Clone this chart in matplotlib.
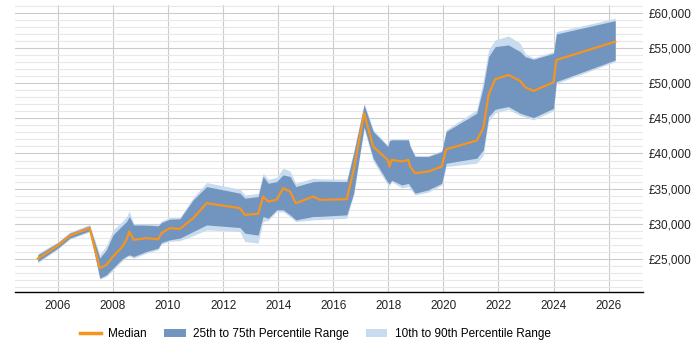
import matplotlib
matplotlib.use("Agg")
import matplotlib.pyplot as plt
from matplotlib.ticker import FuncFormatter, MultipleLocator
from matplotlib.patches import Patch
from matplotlib.lines import Line2D

plt.rcParams['font.family'] = ['Liberation Sans', 'DejaVu Sans']

# Salary percentiles over time
years = [2005.27, 2006.0, 2006.43, 2007.15, 2007.52, 2007.76, 2008.0, 2008.3, 2008.49,
         2008.59, 2008.75, 2009.21, 2009.64, 2009.76, 2010.06, 2010.43, 2010.91, 2011.40,
         2012.61, 2012.79, 2013.27, 2013.45, 2013.64, 2013.94, 2014.18, 2014.43, 2014.64,
         2015.27, 2015.52, 2016.49, 2016.74, 2017.12, 2017.45, 2017.98, 2018.04, 2018.12,
         2018.49, 2018.73, 2018.79, 2018.97, 2019.45, 2019.94, 2020.10, 2021.21, 2021.45,
         2021.64, 2021.88, 2022.36, 2022.79, 2022.97, 2023.27, 2024.0, 2024.1, 2026.24]
p10 = [24450, 26400, 27800, 28850, 22100, 22500, 23400, 24600, 25200,
       25400, 25100, 25800, 26300, 27100, 27500, 27600, 28300, 29130,
       28890, 27470, 27240, 30310, 30500, 31700, 31700, 31000, 30310,
       30550, 30600, 30780, 34100, 43500, 38900, 35500, 35400, 36000,
       35100, 35300, 35000, 34110, 34500, 35500, 38140, 38620, 39800,
       44600, 45800, 46300, 45400, 45200, 44780, 46100, 49950, 53070]
p25 = [24620, 26550, 27950, 28990, 22260, 22730, 23680, 24860, 25400,
       25580, 25340, 26050, 26530, 27330, 27710, 27950, 28890, 29830,
       29460, 28660, 28380, 31030, 30780, 31980, 31980, 31270, 30550,
       31030, 31050, 31270, 34350, 43800, 39330, 35900, 35700, 36200,
       35520, 35760, 35400, 34350, 34820, 35760, 38620, 39330, 40510,
       45250, 46300, 46680, 45730, 45500, 45110, 46440, 50230, 53310]
median = [25050, 26900, 28300, 29370, 23680, 24150, 25340, 26530, 27710,
          28890, 27710, 27950, 27800, 28660, 29370, 29270, 30780, 32930,
          32220, 31270, 31410, 33870, 33160, 33400, 35060, 34580, 32930,
          33870, 33400, 33500, 37670, 45730, 40980, 39090, 38140, 39090,
          38860, 39090, 38140, 37200, 37430, 38140, 40610, 41840, 43600,
          48340, 50570, 51180, 50330, 49430, 48900, 50140, 53310, 55920]
p75 = [25580, 27300, 28660, 29700, 25110, 26290, 28420, 29600, 30310,
       31030, 29830, 29800, 29700, 30170, 30650, 30700, 33400, 35290,
       34350, 33640, 33870, 36730, 35760, 36000, 36960, 36730, 35290,
       36000, 36050, 36000, 40040, 46900, 43130, 41000, 41800, 41940,
       41940, 41940, 41000, 39570, 39560, 40270, 43130, 45730, 49520,
       53780, 55210, 55450, 54500, 53780, 53410, 54270, 57010, 58910]
p90 = [25750, 27450, 28800, 29900, 25600, 26900, 29100, 30200, 31000,
       31800, 30000, 29950, 29850, 30400, 30900, 30900, 33700, 35860,
       34920, 34110, 34300, 37200, 36300, 36600, 37900, 37500, 35760,
       36490, 36400, 36350, 40300, 47200, 43400, 41200, 42000, 42100,
       42100, 42100, 41200, 39750, 39700, 40400, 43400, 46200, 50500,
       54740, 56160, 56730, 55690, 54200, 53600, 54500, 57340, 59250]

light_blue = '#c9dbee'
dark_blue = '#7195be'
orange = '#f7941d'

fig = plt.figure(figsize=(7, 3.5), dpi=100)
ax = fig.add_axes([0.021, 0.166, 0.898, 0.820])

ax.fill_between(years, p10, p90, color=light_blue, linewidth=0, zorder=2)
ax.fill_between(years, p25, p75, color=dark_blue, linewidth=0, zorder=3)
ax.plot(years, median, color=orange, linewidth=1.6, zorder=4)

ax.set_xlim(2004.43, 2027.26)
ax.set_ylim(20300, 61150)

ax.xaxis.set_major_locator(MultipleLocator(2))
ax.yaxis.set_major_locator(MultipleLocator(5000))
ax.yaxis.set_minor_locator(MultipleLocator(1000))
ax.yaxis.set_major_formatter(FuncFormatter(lambda v, p: f"£{v:,.0f}"))
ax.yaxis.tick_right()

ax.grid(True, which='major', axis='both', color='#cccccc', linewidth=0.8, zorder=0)
ax.grid(True, which='minor', axis='y', color='#e8e8e8', linewidth=0.8, zorder=0)
ax.set_axisbelow(True)

for side in ['top', 'left', 'right']:
    ax.spines[side].set_visible(False)
ax.spines['bottom'].set_color('#000000')
ax.spines['bottom'].set_linewidth(1.0)

ax.tick_params(axis='both', which='both', length=0, labelsize=8.5, colors='#222222')
ax.tick_params(axis='x', pad=6)
ax.tick_params(axis='y', pad=4)

handles = [
    Line2D([0], [0], color=orange, linewidth=2.5),
    Patch(facecolor=dark_blue, edgecolor='none'),
    Patch(facecolor=light_blue, edgecolor='none'),
]
labels = ["Median", "25th to 75th Percentile Range", "10th to 90th Percentile Range"]
fig.legend(handles, labels, loc='center', bbox_to_anchor=(0.45, 0.045), ncol=3,
           frameon=False, fontsize=8.5, handlelength=1.8, columnspacing=1.5,
           handletextpad=0.6)

fig.savefig("out.png", dpi=100)
